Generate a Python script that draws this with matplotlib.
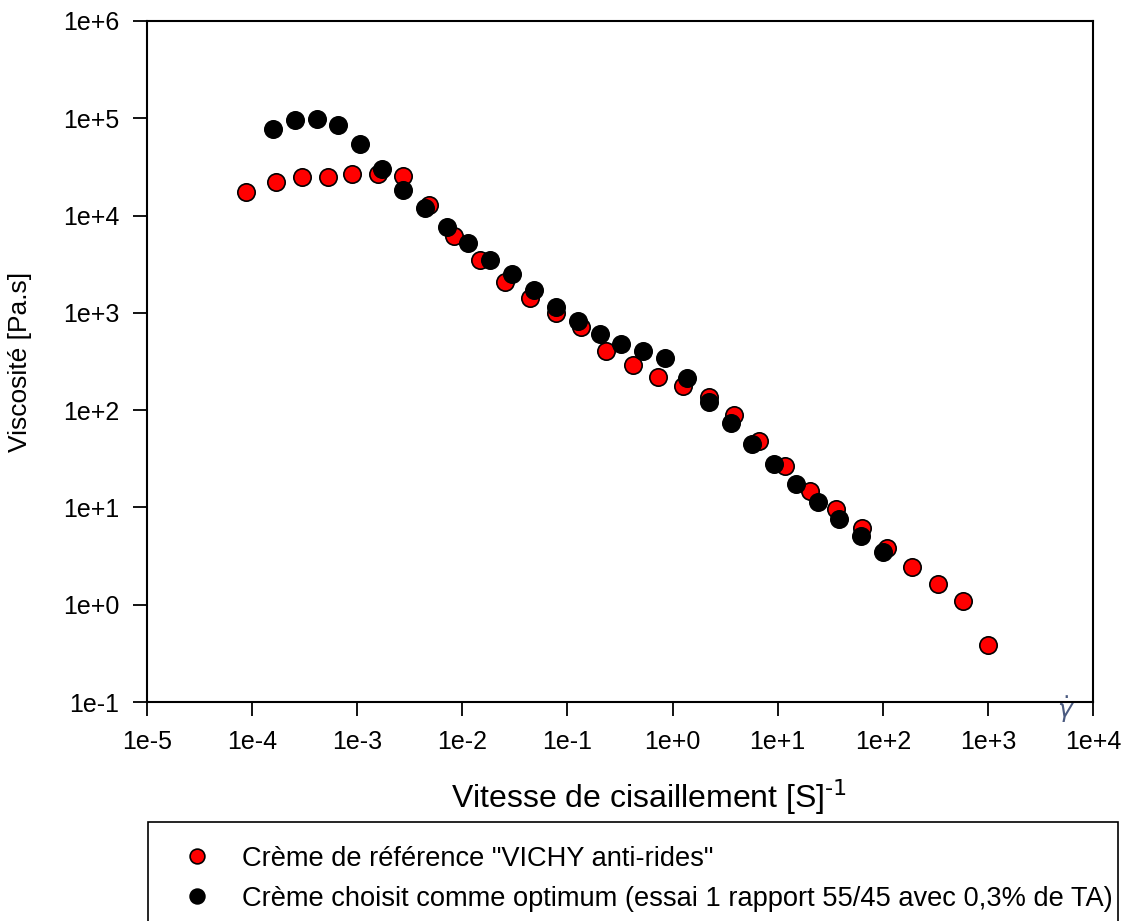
import numpy as np
import matplotlib.pyplot as plt
from matplotlib.lines import Line2D
from matplotlib.patches import Rectangle

plt.rcParams['font.family'] = ['Liberation Sans', 'DejaVu Sans']

# Crème de référence "VICHY anti-rides"
ref_x = [8.8e-5, 1.69e-4, 3.0e-4, 5.3e-4, 8.95e-4, 1.58e-3, 2.74e-3, 4.85e-3,
         8.4e-3, 1.48e-2, 2.57e-2, 4.45e-2, 7.7e-2, 0.136, 0.235, 0.416, 0.72,
         1.27, 2.2, 3.81, 6.6, 11.7, 20.2, 35.7, 63, 109, 189, 334, 578, 1000]
ref_y = [1.74e4, 2.2e4, 2.48e4, 2.48e4, 2.66e4, 2.66e4, 2.54e4, 1.28e4,
         6.1e3, 3.47e3, 2.1e3, 1.41e3, 986, 724, 410, 288, 221,
         175, 135, 90, 48.6, 26.9, 14.9, 9.7, 6.2, 3.85, 2.45, 1.64, 1.10, 0.386]

# Crème choisit comme optimum
opt_x = [1.58e-4, 2.57e-4, 4.16e-4, 6.6e-4, 1.07e-3, 1.73e-3, 2.74e-3, 4.45e-3,
         7.2e-3, 1.14e-2, 1.85e-2, 2.99e-2, 4.85e-2, 7.7e-2, 0.125, 0.202, 0.32,
         0.518, 0.84, 1.36, 2.2, 3.56, 5.65, 9.16, 14.8, 24.0, 38.1, 61.7, 100]
opt_y = [7.7e4, 9.6e4, 9.8e4, 8.5e4, 5.5e4, 3.0e4, 1.82e4, 1.19e4,
         7.6e3, 5.2e3, 3.47e3, 2.49e3, 1.70e3, 1.16e3, 817, 600, 473,
         401, 340, 216, 122, 74.5, 45.3, 28.2, 17.5, 11.5, 7.65, 5.1, 3.5]

labels = ['Crème de référence "VICHY anti-rides"',
          'Crème choisit comme optimum (essai 1 rapport 55/45 avec 0,3% de TA)']

xticks = [1e-5, 1e-4, 1e-3, 1e-2, 1e-1, 1e0, 1e1, 1e2, 1e3, 1e4]
xticklabels = ['1e-5', '1e-4', '1e-3', '1e-2', '1e-1', '1e+0', '1e+1', '1e+2', '1e+3', '1e+4']
yticks = [1e-1, 1e0, 1e1, 1e2, 1e3, 1e4, 1e5, 1e6]
yticklabels = ['1e-1', '1e+0', '1e+1', '1e+2', '1e+3', '1e+4', '1e+5', '1e+6']

W, H = 1131, 921
fig = plt.figure(figsize=(W / 100, H / 100), dpi=100)
ax = fig.add_axes([147 / W, 1 - 702 / H, (1093 - 147) / W, (702 - 21) / H])

ms = 12.5
ax.plot(ref_x, ref_y, 'o', ms=ms, mfc='#ff0000', mec='black', mew=1.2, ls='none', zorder=3)
ax.plot(opt_x, opt_y, 'o', ms=ms, mfc='black', mec='black', mew=1.2, ls='none', zorder=4)

ax.set_xscale('log')
ax.set_yscale('log')
ax.set_xlim(1e-5, 1e4)
ax.set_ylim(1e-1, 1e6)
ax.set_xticks(xticks)
ax.set_xticklabels(xticklabels)
ax.set_yticks(yticks)
ax.set_yticklabels(yticklabels)
ax.minorticks_off()
ax.tick_params(direction='out', length=10, width=1.3, labelsize=18, pad=10)
for s in ax.spines.values():
    s.set_linewidth(1.5)

ax.set_ylabel('Viscosité [Pa.s]', fontsize=19)
ax.yaxis.label.set_va('center')
ax.yaxis.set_label_coords((20 - 147) / (1093 - 147), 0.5)
ax.set_xlabel('Vitesse de cisaillement [S]$^{\\text{-1}}$', fontsize=23)
ax.xaxis.label.set_va('center')
ax.xaxis.set_label_coords((649 - 147) / (1093 - 147), (702 - 797) / (702 - 21))

fig.text(1066 / W, 1 - 710 / H, '$\\dot{\\gamma}$', fontsize=18,
         color='#4a5a80', ha='center', va='center')

# legend box
fig.patches.append(Rectangle((148 / W, -0.01), (1118 - 148) / W, 1 - 822 / H + 0.01,
                             transform=fig.transFigure, fill=False, edgecolor='black', lw=1.2))
handles = [Line2D([], [], marker='o', ls='none', ms=ms, mfc='#ff0000', mec='black', mew=1.2),
           Line2D([], [], marker='o', ls='none', ms=ms, mfc='black', mec='black', mew=1.2)]
fig.legend(handles, labels, loc='upper left', bbox_to_anchor=(183.5 / W, 1 - 846 / H),
           frameon=False, fontsize=19.6, handlelength=1, handletextpad=1.15, borderpad=0,
           borderaxespad=0, labelspacing=0.5, markerscale=0.85)

fig.savefig('out.png', dpi=100)
